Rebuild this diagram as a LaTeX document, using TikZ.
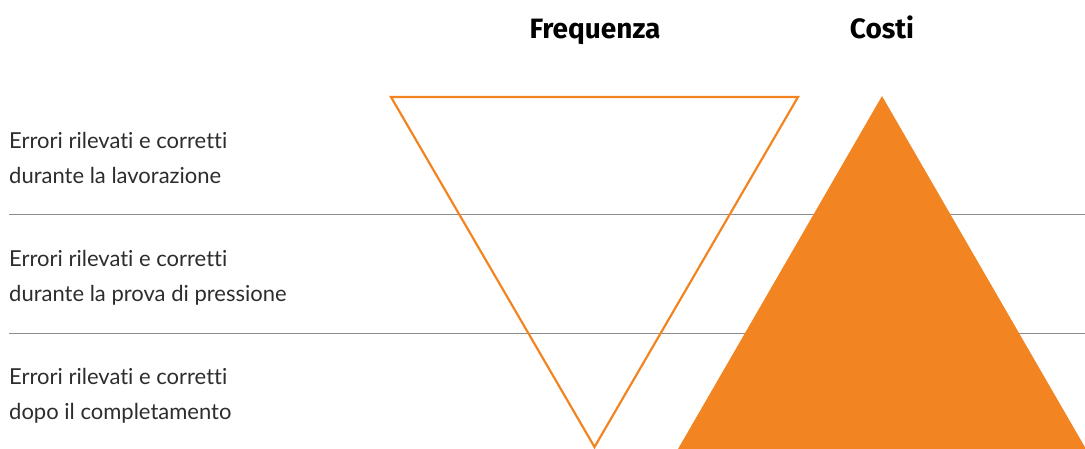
\documentclass[tikz,border=0pt]{standalone}
\usepackage{fontspec}
\setmainfont{Lato}[Ligatures={NoCommon}]
\newfontfamily\headfont{Fira Sans}
\usetikzlibrary{positioning}
\definecolor{arancio}{RGB}{242,133,34}
\definecolor{riga}{RGB}{140,140,140}
\definecolor{testo}{RGB}{45,45,45}
\tikzset{
  rlab/.style={anchor=base west,font=\fontsize{22}{26}\selectfont,text=testo,inner sep=0pt},
  hlab/.style={anchor=base,font=\headfont\bfseries\fontsize{28}{32}\selectfont,inner sep=0pt},
  sep/.style={riga,line width=1.3pt},
  freq/.style={arancio,line width=2.2pt,line join=miter},
  cost/.style={fill=arancio,draw=none}
}
\begin{document}
\begin{tikzpicture}[x=1pt,y=-1pt]
  \useasboundingbox (0,0) rectangle (1085,448);
  \clip (0,0) rectangle (1085,448);
  % headings
  \node[hlab] (hfreq) at (595,38) {Frequenza};
  \node[hlab] (hcost) at (882,38) {Costi};
  % separators
  \coordinate (s1a) at (9,214.5); \coordinate (s1b) at (1085,214.5);
  \coordinate (s2a) at (9,333.5); \coordinate (s2b) at (1085,333.5);
  \draw[sep] (s1a) -- (s1b);
  \draw[sep] (s2a) -- (s2b);
  % triangles
  \coordinate (fl) at (391,97); \coordinate (fr) at (798,97); \coordinate (fb) at (594.5,447);
  \draw[freq] (fl) -- (fr) -- (fb) -- cycle;
  \coordinate (ct) at (882,96); \coordinate (cl) at (678,449); \coordinate (cr) at (1086,449);
  \fill[cost] (ct) -- (cr) -- (cl) -- cycle;
  % row labels
  \node[rlab] (r1a) at (9,148) {Errori rilevati e corretti};
  \node[rlab] (r1b) at (9,183) {durante la lavorazione};
  \node[rlab] (r2a) at (9,266) {Errori rilevati e corretti};
  \node[rlab] (r2b) at (9,301) {durante la prova di pressione};
  \node[rlab] (r3a) at (9,384) {Errori rilevati e corretti};
  \node[rlab] (r3b) at (9,419) {dopo il completamento};
\end{tikzpicture}
\end{document}
